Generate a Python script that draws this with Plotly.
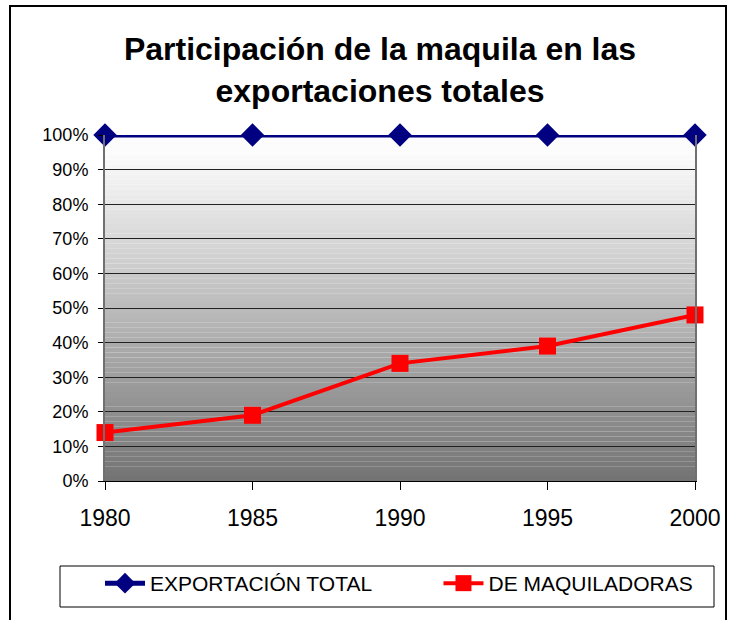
import plotly.graph_objects as go

years = [1980, 1985, 1990, 1995, 2000]
exportacion_total = [1.00, 1.00, 1.00, 1.00, 1.00]
de_maquiladoras = [0.14, 0.19, 0.34, 0.39, 0.48]

W, H = 734, 620
L, R, T, B = 105, 39, 135, 139


def px_to_paper(x, y):
    pw = W - L - R
    ph = H - T - B
    return (x - L) / pw, (H - B - y) / ph


fig = go.Figure()

fig.add_trace(
    go.Scatter(
        x=years,
        y=exportacion_total,
        mode="lines+markers",
        name="EXPORTACIÓN TOTAL",
        line=dict(color="#000080", width=5),
        marker=dict(symbol="diamond", size=18, color="#000080"),
        cliponaxis=False,
    )
)
fig.add_trace(
    go.Scatter(
        x=years,
        y=de_maquiladoras,
        mode="lines+markers",
        name="DE MAQUILADORAS",
        line=dict(color="#FF0000", width=4),
        marker=dict(symbol="square", size=17, color="#FF0000"),
        cliponaxis=False,
    )
)

# gradient background of the plot area (white at top, grey at bottom)
shapes = []
n = 70
for i in range(n):
    f = (i + 0.5) / n
    c = int(min(252, 115 + 145 * f))
    shapes.append(
        dict(
            type="rect",
            xref="paper",
            yref="paper",
            x0=0,
            x1=1,
            y0=i / n,
            y1=(i + 1) / n,
            fillcolor=f"rgb({c},{c},{c})",
            line=dict(width=0),
            layer="below",
        )
    )


def px_rect(left, top, right, bottom, **kw):
    xa, ya = px_to_paper(left, top)
    xb, yb = px_to_paper(right, bottom)
    return dict(type="rect", xref="paper", yref="paper",
                x0=xa, x1=xb, y0=yb, y1=ya, **kw)


# outer chart border
shapes.append(px_rect(10, 6, 726, 640, line=dict(color="black", width=2),
                      fillcolor="rgba(0,0,0,0)", layer="above"))
# legend box
shapes.append(px_rect(60, 566, 714, 607, line=dict(color="black", width=1),
                      fillcolor="white", layer="above"))

lx, ly = px_to_paper(100, 563)

fig.update_layout(
    width=W,
    height=H,
    margin=dict(l=L, r=R, t=T, b=B, autoexpand=False),
    paper_bgcolor="white",
    plot_bgcolor="rgba(0,0,0,0)",
    font=dict(family="Liberation Sans, Arial, sans-serif", size=18, color="black"),
    title=dict(
        text="<b>Participación de la maquila en las<br>exportaciones totales</b>",
        font=dict(size=32, color="black"),
        x=380 / W,
        xanchor="center",
        yref="container",
        y=1 - 60 / H,
        yanchor="top",
    ),
    showlegend=True,
    legend=dict(
        orientation="h",
        x=lx,
        y=ly,
        xanchor="left",
        yanchor="top",
        borderwidth=0,
        bgcolor="rgba(0,0,0,0)",
        font=dict(size=21),
        entrywidth=0.487,
        entrywidthmode="fraction",
        itemwidth=40,
    ),
    shapes=shapes,
)

fig.update_xaxes(
    range=[1980, 2000],
    tickvals=years,
    ticktext=[str(y) for y in years],
    showgrid=False,
    zeroline=False,
    showline=True,
    linecolor="black",
    linewidth=1,
    ticks="outside",
    ticklen=8,
    tickcolor="black",
    tickfont=dict(size=23),
    ticklabelstandoff=8,
)
fig.update_yaxes(
    range=[0, 1],
    dtick=0.1,
    tickformat=".0%",
    showgrid=True,
    gridcolor="#222222",
    gridwidth=1,
    zeroline=False,
    showline=True,
    mirror=True,
    linecolor="#707070",
    linewidth=2,
    ticks="outside",
    ticklen=5,
    tickcolor="black",
    tickfont=dict(size=18),
    ticklabelstandoff=6,
)

# the page body has a default 8px margin; drop it so the figure sits at 0,0
fig.write_html(
    "out.html",
    config={"displayModeBar": False},
    post_script="document.body.style.margin='0';",
)
